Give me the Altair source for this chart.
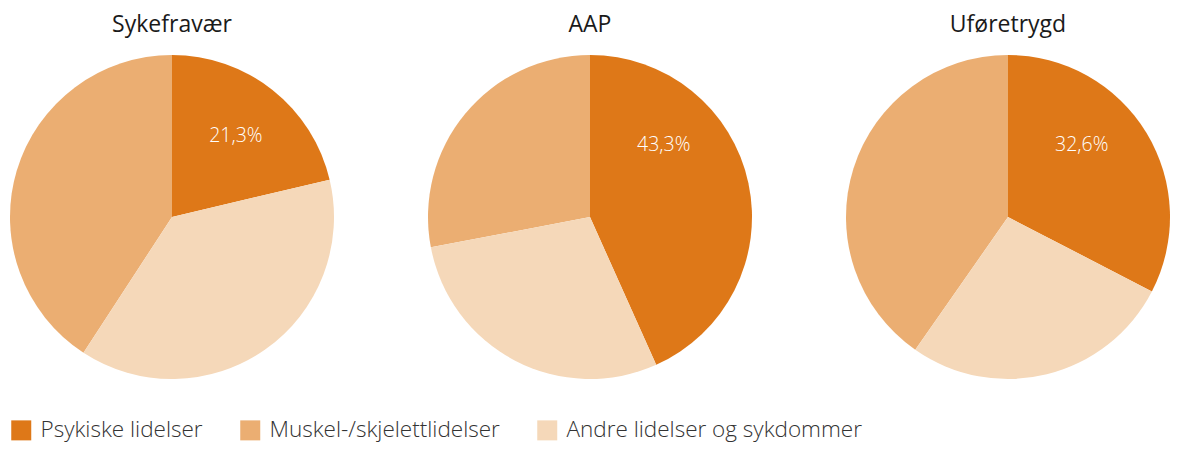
import altair as alt
import pandas as pd

panels = ["Sykefravær", "AAP", "Uføretrygd"]
categories = ["Psykiske lidelser", "Muskel-/skjelettlidelser", "Andre lidelser og sykdommer"]
slice_rank = [0, 2, 1]  # clockwise drawing order of the categories
colors = ["#DE7818", "#EBAE72", "#F5D8B9"]

psykiske = [21.3, 43.3, 32.6]
muskel = [40.8, 28.0, 40.3]
andre = [37.9, 28.7, 27.1]
pct_labels = ["21,3%", "43,3%", "32,6%"]

rows = []
for i, p in enumerate(panels):
    for c, vals, r in zip(categories, [psykiske, muskel, andre], slice_rank):
        rows.append({"panel": p, "category": c, "value": vals[i], "rank": r,
                     "label": pct_labels[i] if r == 0 else ""})
df = pd.DataFrame(rows)

FONT = "Open Sans"


def pie(name):
    base = alt.Chart(df).transform_filter(alt.datum.panel == name)
    arc = base.mark_arc(outerRadius=162, strokeWidth=0).encode(
        theta=alt.Theta("value:Q", stack=True, scale=alt.Scale(domain=[0, 100])),
        color=alt.Color(
            "category:N",
            scale=alt.Scale(domain=categories, range=colors),
            sort=categories,
            legend=alt.Legend(
                title=None, orient="bottom", direction="horizontal",
                symbolType="square", symbolSize=400, symbolStrokeWidth=0,
                labelFontSize=22.5, labelFont=FONT, labelFontWeight=300,
                labelColor="#333333", columnPadding=36, labelOffset=8,
                offset=40, labelLimit=400,
            ),
        ),
        order=alt.Order("rank:Q"),
    )
    text = base.transform_filter(alt.datum.rank == 0).transform_calculate(
        label_theta="min(datum.value / 2, 12.7)"
    ).mark_text(radius=103, fontSize=19.5, font=FONT, fontWeight=300, color="white").encode(
        theta=alt.Theta("label_theta:Q", stack=False),
        text="label:N",
    )
    return alt.layer(arc, text).properties(
        width=324, height=324,
        title=alt.TitleParams(name, fontSize=23, font=FONT, fontWeight=500,
                              color="#1a1a1a", anchor="middle", offset=18),
    )


chart = alt.hconcat(*[pie(p) for p in panels], spacing=94).properties(
    padding={"left": 2, "top": 6, "right": 0, "bottom": 3}
).configure_view(stroke=None)

chart.save("out.html", embed_options={"renderer": "svg", "actions": False})
